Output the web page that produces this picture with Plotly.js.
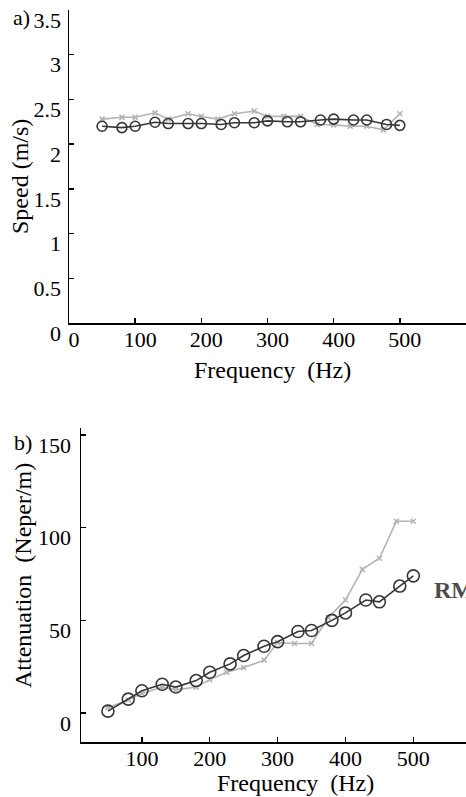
<!DOCTYPE html>
<html>
<head>
<meta charset="utf-8">
<script src="https://cdn.plot.ly/plotly-3.0.1.min.js"></script>
<style>html,body{margin:0;padding:0;background:#fff;}#chart{width:466px;height:797px;}</style>
</head>
<body>
<div id="chart"></div>
<script>
// Frequencies (Hz)
const freqRMS = [50, 80, 100, 130, 150, 180, 200, 230, 250, 280, 300, 330, 350, 380, 400, 430, 450, 480, 500];
const freqAlt = [50, 80, 100, 130, 150, 180, 200, 225, 250, 280, 300, 325, 350, 375, 400, 425, 450, 475, 500];
// a) Speed (m/s)
const speedRMS = [2.20, 2.185, 2.20, 2.245, 2.23, 2.23, 2.23, 2.22, 2.24, 2.24, 2.26, 2.25, 2.25, 2.27, 2.28, 2.27, 2.27, 2.22, 2.21];
const speedAlt = [2.28, 2.30, 2.30, 2.35, 2.28, 2.34, 2.31, 2.28, 2.34, 2.37, 2.31, 2.31, 2.31, 2.22, 2.215, 2.20, 2.20, 2.16, 2.34];
// b) Attenuation (Neper/m)
const attRMS = [1, 7.5, 12, 15.5, 14, 17.5, 22, 26.5, 31, 36, 38.5, 44, 44.5, 50, 54, 61, 60, 68.5, 74];
const attAlt = [3, 7, 10.5, 14, 12.5, 14, 18, 22, 24.5, 28.5, 38, 37.5, 37.5, 51.5, 61, 77.5, 83.5, 103.5, 103.5];
// tick labels
const xTicksTop = [0, 100, 200, 300, 400, 500];
const xTicksBottom = [100, 200, 300, 400, 500];
const yTicksSpeed = [0, 0.5, 1, 1.5, 2, 2.5, 3, 3.5];
const yTicksAtt = [0, 50, 100, 150];

const dark = '#363636', light = '#b4b4b4';
const serif = 'Liberation Serif';

const traces = [
  {x: freqAlt, y: speedAlt, xaxis: 'x', yaxis: 'y', mode: 'lines+markers',
   line: {color: light, width: 1.6}, marker: {symbol: 'x-thin', size: 5, line: {color: light, width: 1.6}}},
  {x: freqRMS, y: speedRMS, xaxis: 'x', yaxis: 'y', mode: 'lines+markers',
   line: {color: dark, width: 1.6}, marker: {symbol: 'circle-open', size: 10, color: dark, line: {color: dark, width: 1.6}}},
  {x: freqAlt, y: attAlt, xaxis: 'x2', yaxis: 'y2', mode: 'lines+markers',
   line: {color: light, width: 1.6}, marker: {symbol: 'x-thin', size: 5, line: {color: light, width: 1.6}}},
  {x: freqRMS, y: attRMS, xaxis: 'x2', yaxis: 'y2', mode: 'lines+markers',
   line: {color: dark, width: 1.6}, marker: {symbol: 'circle-open', size: 12, color: dark, line: {color: dark, width: 1.6}}}
];

const H = 797, W = 466;
const px = v => v / W, py = v => 1 - v / H;
const axisCommon = {showline: true, linecolor: '#000', linewidth: 1.5, ticks: 'inside', ticklen: 5,
  tickcolor: '#000', tickwidth: 1.5, showgrid: false, zeroline: false, fixedrange: true,
  tickfont: {family: serif, size: 22, color: '#000'}};

const ann = (text, x, y, extra) => Object.assign({text: text, x: px(x), y: py(y), xref: 'paper', yref: 'paper',
  xanchor: 'center', yanchor: 'middle', showarrow: false, font: {family: serif, size: 24, color: '#000'}}, extra || {});

const layout = {
  width: W, height: H, showlegend: false, paper_bgcolor: '#fff', plot_bgcolor: '#fff',
  margin: {l: 0, r: 0, t: 0, b: 0},
  xaxis: Object.assign({}, axisCommon, {domain: [px(69), 1], range: [0, 600], tickvals: xTicksTop,
    ticktext: xTicksTop.map(String), ticklabelshift: 5, ticklabelstandoff: -4, anchor: 'y'}),
  yaxis: Object.assign({}, axisCommon, {domain: [py(323), py(10)], range: [0, 3.5], tickvals: yTicksSpeed,
    ticktext: yTicksSpeed.map(String), ticklabelshift: 10, ticklabelstandoff: 2, anchor: 'x'}),
  xaxis2: Object.assign({}, axisCommon, {domain: [px(81), 1], range: [10.3, 577.6], tickvals: xTicksBottom,
    ticktext: xTicksBottom.map(String), ticklabelstandoff: -4, anchor: 'y2'}),
  yaxis2: Object.assign({}, axisCommon, {domain: [py(742), py(428)], range: [-15.65, 153.8], tickvals: yTicksAtt,
    ticktext: yTicksAtt.map(String), ticklabelshift: 10, ticklabelstandoff: 4, anchor: 'x2'}),
  annotations: [
    ann('a)', 21, 18, {font: {family: serif, size: 22, color: '#000'}}),
    ann('b)', 23, 442, {font: {family: serif, size: 22, color: '#000'}}),
    ann('Frequency&nbsp;&nbsp;(Hz)', 272, 370),
    ann('Frequency&nbsp;&nbsp;(Hz)', 295, 783),
    ann('Speed (m/s)', 20, 177, {textangle: -90}),
    ann('Attenuation&nbsp;&nbsp;(Neper/m)', 23, 576, {textangle: -90}),
    ann('<b>RMS</b>', 432, 590, {xanchor: 'left', font: {family: serif, size: 24, color: '#4d4d4d'}})
  ]
};

Plotly.newPlot('chart', traces, layout, {displayModeBar: false, staticPlot: true});
</script>
</body>
</html>
